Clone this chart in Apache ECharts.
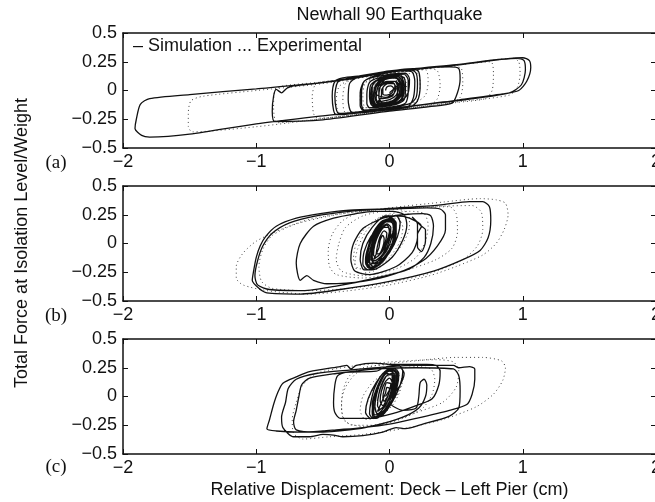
<!DOCTYPE html>
<html>
<head>
<meta charset="utf-8">
<script src="https://cdn.jsdelivr.net/npm/echarts@6/dist/echarts.min.js"></script>
<style>
  html, body { margin: 0; padding: 0; background: #fff; }
  #chart { width: 655px; height: 502px; }
</style>
</head>
<body>
<div id="chart"></div>
<script>
// Hysteresis traces: [displacement (cm), force / weight]
const xTicks = [-2, -1, 0, 1, 2];
const yTicks = [-0.5, -0.25, 0, 0.25, 0.5];
const panelLabels = ['(a)', '(b)', '(c)'];

// Panel (a) – simulation
const simA = [
  [0.00,-0.02],[0.08,0.08],[0.05,0.11],[-0.05,0.09],[-0.10,0.05],[-0.12,-0.03],[-0.12,-0.10],[-0.10,-0.13],
  [0.01,-0.11],[0.06,-0.07],[0.10,0.01],[0.09,0.09],[0.06,0.12],[-0.06,0.10],[-0.12,0.06],[-0.14,-0.03],
  [-0.14,-0.10],[-0.12,-0.14],[0.02,-0.12],[0.10,-0.08],[0.14,-0.02],[0.15,0.10],[0.12,0.15],[-0.10,0.12],
  [-0.19,0.08],[-0.21,-0.02],[-0.21,-0.12],[-0.19,-0.17],[0.05,-0.14],[0.16,-0.11],[0.20,-0.06],[0.21,0.06],
  [0.20,0.15],[0.16,0.18],[-0.10,0.15],[-0.33,0.10],[-0.39,0.07],[-0.41,-0.05],[-0.40,-0.16],[-0.38,-0.20],
  [0.00,-0.16],[0.50,-0.085],[0.85,-0.03],[0.97,0.00],[1.03,0.08],[1.06,0.20],[1.05,0.26],[1.00,0.285],
  [0.50,0.225],[0.00,0.165],[-0.50,0.07],[-1.00,0.015],[-1.50,-0.035],[-1.80,-0.07],[-1.87,-0.12],
  [-1.90,-0.25],[-1.91,-0.33],[-1.86,-0.39],[-1.80,-0.405],
  [-1.50,-0.38],[-1.00,-0.29],[-0.50,-0.22],[0.00,-0.155],[0.50,-0.09],[0.90,-0.02],[0.99,0.05],
  [1.02,0.18],[1.01,0.26],[0.96,0.28],
  [0.50,0.22],[0.00,0.16],[-0.30,0.10],[-0.60,0.055],[-0.72,0.04],[-0.77,0.02],[-0.81,-0.02],[-0.85,0.01],
  [-0.87,-0.05],[-0.88,-0.18],[-0.86,-0.27],
  [-0.50,-0.255],[0.00,-0.18],[0.30,-0.14],[0.47,-0.11],[0.51,-0.02],[0.53,0.10],[0.52,0.19],[0.45,0.205],
  [0.00,0.17],[-0.20,0.13],[-0.35,0.11],[-0.41,0.08],[-0.43,-0.05],[-0.42,-0.17],[-0.40,-0.21],
  [-0.10,-0.18],[0.16,-0.14],[0.21,-0.09],[0.23,0.04],[0.22,0.16],[0.18,0.19],
  [-0.10,0.15],[-0.25,0.11],[-0.30,0.06],[-0.31,-0.08],[-0.28,-0.19],
  [0.00,-0.165],[0.14,-0.14],[0.18,-0.06],[0.19,0.08],[0.17,0.16],[0.10,0.17],
  [-0.10,0.13],[-0.19,0.08],[-0.22,-0.02],[-0.22,-0.13],[-0.20,-0.17],
  [0.03,-0.14],[0.12,-0.11],[0.14,-0.02],[0.14,0.09],[0.11,0.14],
  [-0.08,0.11],[-0.15,0.07],[-0.17,-0.03],[-0.17,-0.11],[-0.15,-0.15],
  [0.05,-0.12],[0.11,-0.08],[0.12,0.03],[0.11,0.11],[0.07,0.13],[-0.08,0.10],[-0.14,0.05],[-0.15,-0.05],[-0.13,-0.13],
  [0.06,-0.11],[0.10,-0.06],[0.11,0.04],[0.09,0.12],[0.04,0.13],[-0.09,0.09],[-0.13,0.03],[-0.13,-0.07],[-0.11,-0.13],
  [0.04,-0.11],[0.09,-0.07],[0.10,0.03],[0.08,0.11],[0.03,0.12],[-0.07,0.09],[-0.11,0.03],[-0.12,-0.06],[-0.10,-0.12],
  [0.03,-0.10],[0.07,-0.05],[0.08,0.04],[0.06,0.10],[0.01,0.11],[-0.06,0.08],[-0.09,0.02],[-0.10,-0.07],[-0.08,-0.11],
  [0.00,-0.10],[0.06,-0.06],[0.08,0.03],[0.06,0.10],[0.02,0.12],[-0.08,0.10],[-0.13,0.04],[-0.14,-0.05],[-0.12,-0.12],
  [0.05,-0.09],[0.09,-0.04],[0.10,0.05],[0.08,0.11],[0.03,0.12],[-0.04,0.09],[-0.07,0.03],[-0.08,-0.06],[-0.05,-0.11],
  [0.04,-0.10],[0.08,-0.05],[0.09,0.04],[0.07,0.10],[0.02,0.11],[-0.06,0.09],[-0.10,0.03],[-0.11,-0.05],[-0.09,-0.11],
  [0.02,-0.09],[0.06,-0.04],[0.06,0.03],
  [0.04,0.08],[-0.04,0.06],[-0.08,0.01],[-0.08,-0.06],[-0.05,-0.07],[0.02,-0.05],[0.04,0.00],[0.04,0.05],
  [0.02,0.07],[-0.03,0.05],[-0.06,0.00],[-0.06,-0.05],[-0.09,-0.10],[0.00,-0.08],[0.05,-0.04],[0.07,0.03],
  [0.05,0.08],[-0.02,0.08],[-0.08,0.04],[-0.10,-0.03],[-0.03,-0.06],[0.03,-0.03],[0.05,0.02],[0.03,0.06],
  [-0.02,0.06],[-0.05,0.02],[-0.05,-0.03],[-0.02,-0.04],[0.02,-0.02],[0.03,0.02],[0.01,0.04],[-0.02,0.03],[-0.03,0.00]
];

// Panel (a) – experiment
const expA = [
  [0.00,-0.03],[0.06,0.07],[0.03,0.11],[-0.06,0.09],[-0.12,0.03],[-0.13,-0.07],[-0.10,-0.13],[0.04,-0.11],
  [0.10,-0.06],[0.12,0.05],[0.10,0.13],[-0.08,0.12],[-0.18,0.07],[-0.20,-0.05],[-0.18,-0.15],[0.00,-0.14],
  [0.20,-0.10],[0.27,-0.04],[0.29,0.08],[0.27,0.18],[0.00,0.15],[-0.30,0.09],[-0.38,0.03],[-0.40,-0.10],
  [-0.37,-0.20],[0.00,-0.17],[0.50,-0.10],[0.90,-0.04],[0.96,0.03],[0.98,0.15],[0.97,0.25],[0.93,0.28],
  [0.50,0.22],[0.00,0.15],[-0.50,0.06],[-1.00,0.00],[-1.40,-0.05],[-1.49,-0.09],[-1.51,-0.20],[-1.51,-0.31],
  [-1.48,-0.36],[-1.00,-0.315],[-0.50,-0.245],[0.00,-0.175],[0.50,-0.105],[0.72,-0.07],[0.77,0.00],
  [0.78,0.15],[0.76,0.25],[0.50,0.22],[0.00,0.155],[-0.40,0.085],[-0.80,0.04],[-0.86,0.00],[-0.87,-0.15],
  [-0.84,-0.28],[-0.40,-0.23],[0.00,-0.175],[0.45,-0.11],[0.53,-0.06],[0.55,0.06],[0.54,0.19],[0.48,0.21],
  [0.00,0.15],[-0.40,0.09],[-0.55,0.06],[-0.58,-0.05],[-0.57,-0.20],[-0.54,-0.24],[0.00,-0.17],[0.30,-0.13],
  [0.36,-0.07],[0.38,0.05],[0.36,0.17],[0.30,0.19],[0.00,0.15],[-0.25,0.11],[-0.33,0.06],[-0.35,-0.06],
  [-0.33,-0.19],[0.00,-0.16],[0.18,-0.12],[0.22,-0.05],[0.23,0.07],[0.21,0.15],[0.00,0.13],[-0.15,0.09],
  [-0.21,0.03],[-0.22,-0.08],[-0.19,-0.15],[0.00,-0.13],[0.10,-0.09],[0.13,-0.01],[0.12,0.09],[0.09,0.12],
  [-0.05,0.10],[-0.12,0.04],[-0.13,-0.06],[-0.10,-0.11],[0.00,-0.09],[0.04,-0.03]
];

// Panel (b) – simulation
const simB = [
  [-0.02,0.00],[0.03,0.12],[0.02,0.18],[-0.03,0.19],[-0.09,0.12],[-0.13,0.00],[-0.14,-0.12],[-0.11,-0.18],
  [-0.06,-0.15],[0.00,-0.05],[0.04,0.08],[0.05,0.17],[0.02,0.21],[-0.05,0.20],[-0.12,0.10],[-0.16,-0.03],
  [-0.17,-0.15],[-0.14,-0.21],[-0.08,-0.18],[0.00,-0.08],[0.06,0.06],[0.08,0.18],[0.05,0.24],[-0.03,0.24],
  [-0.13,0.14],[-0.20,0.00],[-0.22,-0.14],[-0.19,-0.23],[-0.10,-0.22],[0.02,-0.12],[0.10,0.03],[0.13,0.16],
  [0.11,0.25],[0.02,0.28],
  [-0.12,0.28],[-0.25,0.26],[-0.42,0.22],[-0.57,0.15],[-0.67,0.00],[-0.70,-0.17],[-0.67,-0.32],[-0.62,-0.28],
  [-0.57,-0.32],[-0.47,-0.35],[-0.20,-0.33],[0.05,-0.26],[0.25,-0.15],[0.36,-0.02],[0.42,0.12],[0.42,0.25],
  [0.38,0.30],[0.28,0.31],
  [0.00,0.30],[-0.30,0.29],[-0.52,0.26],[-0.70,0.22],[-0.85,0.15],[-0.93,0.06],[-0.97,-0.02],[-1.00,-0.12],
  [-1.02,-0.24],[-1.03,-0.32],[-0.98,-0.39],[-0.92,-0.43],[-0.67,-0.44],[-0.37,-0.40],[0.00,-0.33],
  [0.33,-0.24],[0.55,-0.14],[0.68,-0.06],[0.74,0.05],[0.76,0.20],[0.75,0.32],[0.70,0.365],[0.60,0.365],
  [0.37,0.334],[0.00,0.305],[-0.30,0.28],[-0.55,0.24],[-0.75,0.18],[-0.88,0.09],[-0.95,-0.02],[-0.99,-0.15],
  [-1.01,-0.28],[-0.99,-0.36],[-0.90,-0.40],[-0.65,-0.41],[-0.40,-0.37],[-0.10,-0.30],[0.15,-0.22],
  [0.26,-0.12],[0.31,0.00],[0.33,0.15],[0.31,0.24],[0.25,0.26],
  [0.10,0.25],[-0.05,0.22],[-0.20,0.13],[-0.27,0.00],[-0.29,-0.14],[-0.26,-0.24],[-0.15,-0.27],[0.05,-0.20],
  [0.17,-0.08],[0.21,0.05],[0.21,0.17],[0.17,0.23],
  [0.24,0.15],[0.27,0.12],[0.27,0.02],[0.24,-0.07],[0.21,-0.03],[0.21,0.08],[0.24,0.15],
  [0.15,0.22],[0.05,0.24],[-0.05,0.18],[-0.14,0.06],[-0.19,-0.07],[-0.20,-0.18],[-0.16,-0.23],[-0.07,-0.18],
  [0.00,-0.07],[0.04,0.06],[0.05,0.17],[0.02,0.22],[-0.04,0.20],[-0.11,0.10],[-0.16,-0.03],[-0.18,-0.14],[-0.16,-0.21],
  [-0.06,-0.17],[0.01,-0.05],[0.05,0.08],[0.05,0.18],[0.01,0.22],[-0.06,0.18],[-0.12,0.07],[-0.16,-0.06],[-0.17,-0.17],[-0.14,-0.22],
  [-0.04,-0.14],[0.02,-0.02],[0.04,0.10],[0.03,0.19],[-0.01,0.21],[-0.07,0.15],[-0.12,0.04],[-0.15,-0.09],[-0.15,-0.17],[-0.12,-0.20],
  [-0.09,-0.16],[-0.02,-0.06],[0.02,0.06],[0.03,0.16],[0.00,0.20],[-0.06,0.17],[-0.12,0.07],[-0.16,-0.05],[-0.18,-0.15],[-0.17,-0.19],
  [-0.03,-0.11],[0.02,0.00],[0.03,0.11],[0.02,0.18],[-0.02,0.19],[-0.08,0.12],[-0.12,0.00],[-0.13,-0.11],[-0.12,-0.17],[-0.10,-0.18],
  [-0.05,-0.13],[0.01,-0.03],[0.04,0.09],[0.04,0.17],[0.00,0.21],[-0.07,0.16],[-0.13,0.04],[-0.16,-0.08],[-0.16,-0.16],
  [-0.11,-0.17],[-0.04,-0.08],[0.00,0.03],
  [0.01,0.14],[-0.02,0.17],[-0.07,0.12],[-0.11,0.03],[-0.13,-0.07],[-0.14,-0.14],[-0.11,-0.15],[-0.05,-0.09],
  [-0.02,0.00],[0.00,0.09],[-0.01,0.14],[-0.04,0.14],[-0.08,0.08],[-0.11,-0.01],[-0.12,-0.10],[-0.10,-0.12],
  [-0.05,-0.06],[-0.03,0.02],[-0.02,0.09],[-0.04,0.11],[-0.07,0.06],[-0.09,-0.02],[-0.10,-0.09],[-0.08,-0.09],
  [-0.05,-0.03],[-0.04,0.04],[-0.05,0.07],[-0.07,0.03],[-0.08,-0.04],[-0.12,-0.14],[-0.06,-0.08],[-0.02,0.02],
  [0.00,0.12],[-0.02,0.16],[-0.06,0.13],[-0.10,0.04],[-0.12,-0.06]
];

// Panel (b) – experiment
const expB = [
  [-0.05,-0.05],[0.02,0.10],[0.03,0.18],[-0.02,0.20],[-0.10,0.12],[-0.15,-0.02],[-0.17,-0.15],[-0.13,-0.21],
  [-0.06,-0.16],[0.02,-0.04],[0.07,0.10],[0.08,0.21],[0.03,0.25],[-0.08,0.22],[-0.18,0.10],[-0.24,-0.05],
  [-0.26,-0.18],[-0.22,-0.26],[-0.12,-0.24],[0.00,-0.14],[0.10,0.00],[0.15,0.15],[0.14,0.26],[0.05,0.30],
  [-0.20,0.28],[-0.35,0.20],[-0.43,0.08],[-0.46,-0.06],[-0.45,-0.20],[-0.40,-0.27],[-0.20,-0.30],[0.10,-0.24],
  [0.35,-0.14],[0.47,-0.04],[0.51,0.10],[0.50,0.26],[0.45,0.32],
  [0.00,0.30],[-0.30,0.27],[-0.60,0.21],[-0.80,0.13],[-1.00,0.02],[-1.10,-0.085],[-1.15,-0.20],[-1.15,-0.30],
  [-1.10,-0.36],[-0.92,-0.41],[-0.60,-0.44],[-0.30,-0.41],[0.00,-0.36],[0.30,-0.28],[0.50,-0.20],[0.70,-0.10],
  [0.80,0.00],[0.86,0.12],[0.89,0.25],[0.87,0.35],[0.80,0.38],[0.68,0.39],
  [0.40,0.36],[0.00,0.31],[-0.40,0.25],[-0.70,0.17],[-0.88,0.07],[-0.95,-0.05],[-0.98,-0.20],[-0.96,-0.33],
  [-0.88,-0.39],[-0.60,-0.41],[-0.30,-0.39],[0.00,-0.34],[0.30,-0.26],[0.55,-0.14],[0.66,-0.02],[0.70,0.12],
  [0.69,0.27],[0.62,0.33],
  [0.30,0.32],[0.00,0.29],[-0.20,0.24],[-0.33,0.14],[-0.38,0.00],[-0.40,-0.14],[-0.36,-0.24],[-0.20,-0.28],
  [0.05,-0.22],[0.20,-0.12],[0.27,0.02],[0.29,0.16],[0.26,0.26],[0.15,0.28],
  [-0.05,0.24],[-0.18,0.14],[-0.25,0.00],[-0.27,-0.13],[-0.23,-0.22],[-0.12,-0.22],[0.00,-0.12],[0.08,0.02],
  [0.10,0.14],[0.06,0.22],[-0.03,0.21],[-0.11,0.10],[-0.15,-0.03],[-0.15,-0.14],[-0.10,-0.18],[-0.03,-0.10],
  [0.02,0.02]
];

// Panel (c) – simulation
const simC = [
  [-0.03,0.00],[0.02,0.12],[0.02,0.18],[-0.02,0.20],[-0.07,0.12],[-0.10,0.00],[-0.11,-0.10],[-0.09,-0.15],
  [-0.04,-0.12],[0.01,-0.02],[0.05,0.10],[0.06,0.20],[0.02,0.24],[-0.05,0.20],[-0.11,0.08],[-0.14,-0.05],
  [-0.15,-0.15],[-0.12,-0.19],[-0.05,-0.16],[0.02,-0.05],[0.08,0.10],[0.10,0.22],[0.07,0.27],[-0.02,0.26],
  [-0.10,0.22],[-0.33,0.21],[-0.39,0.18],[-0.41,0.10],[-0.42,-0.05],[-0.41,-0.14],[-0.37,-0.19],[-0.15,-0.19],
  [0.05,-0.14],[0.20,-0.08],[0.32,-0.02],[0.37,0.10],[0.38,0.22],[0.35,0.27],[0.28,0.28],
  [0.00,0.28],[-0.12,0.29],[-0.25,0.27],[-0.29,0.24],[-0.32,0.27],[-0.37,0.26],[-0.60,0.216],[-0.70,0.17],
  [-0.80,0.115],[-0.84,0.03],[-0.87,-0.07],[-0.90,-0.20],[-0.92,-0.28],[-0.85,-0.30],[-0.67,-0.31],
  [-0.50,-0.30],[-0.40,-0.29],[-0.20,-0.27],[0.00,-0.24],[0.20,-0.19],[0.45,-0.12],[0.58,-0.07],[0.62,0.02],
  [0.64,0.15],[0.64,0.24],[0.60,0.26],[0.52,0.25],[0.48,0.27],[0.42,0.27],
  [0.20,0.27],[0.00,0.26],[-0.30,0.23],[-0.55,0.20],[-0.70,0.15],[-0.76,0.07],[-0.78,-0.05],[-0.81,-0.18],
  [-0.80,-0.27],[-0.72,-0.35],[-0.60,-0.35],[-0.50,-0.33],[-0.42,-0.335],[-0.35,-0.35],[-0.20,-0.34],
  [-0.05,-0.31],[0.05,-0.27],[0.12,-0.28],[0.25,-0.24],[0.45,-0.17],[0.52,-0.10],[0.53,0.05],[0.52,0.18],
  [0.48,0.24],
  [0.20,0.25],[-0.10,0.24],[-0.40,0.20],[-0.60,0.16],[-0.66,0.10],[-0.68,0.00],[-0.70,-0.12],[-0.72,-0.22],
  [-0.70,-0.29],[-0.55,-0.31],[-0.30,-0.29],[-0.10,-0.25],[0.10,-0.18],[0.22,-0.10],[0.27,0.00],[0.28,0.10],
  [0.26,0.15],[0.23,0.12],[0.22,0.00],[0.20,-0.10],
  [0.10,-0.12],[0.00,-0.05],[0.08,0.10],[0.11,0.20],[0.08,0.25],[-0.02,0.23],[-0.10,0.12],[-0.16,-0.02],
  [-0.18,-0.14],[-0.14,-0.19],[-0.06,-0.15],
  [0.02,-0.03],[0.06,0.10],[0.07,0.20],[0.04,0.24],[-0.02,0.21],[-0.08,0.10],[-0.12,-0.03],[-0.13,-0.13],[-0.12,-0.18],
  [-0.05,-0.14],[0.03,-0.01],[0.06,0.12],[0.05,0.21],[0.01,0.24],[-0.05,0.18],[-0.10,0.06],[-0.13,-0.07],[-0.12,-0.16],[-0.10,-0.19],
  [-0.01,-0.10],[0.04,0.02],[0.06,0.14],[0.04,0.22],[-0.01,0.22],[-0.06,0.14],[-0.10,0.02],[-0.11,-0.10],[-0.08,-0.17],
  [-0.04,-0.12],[0.01,-0.02],[0.04,0.10],[0.04,0.19],[0.00,0.22],[-0.06,0.16],[-0.10,0.05],[-0.12,-0.07],[-0.11,-0.16],
  [-0.03,-0.12],[0.03,0.00],[0.05,0.12],[0.05,0.20],[0.01,0.23],[-0.05,0.17],[-0.09,0.05],[-0.11,-0.08],[-0.09,-0.15],
  [-0.03,-0.08],[0.01,0.03],
  [0.03,0.12],[0.03,0.18],[-0.01,0.19],[-0.05,0.12],[-0.08,0.02],[-0.09,-0.08],[-0.07,-0.11],[-0.02,-0.05],
  [0.01,0.04],[0.02,0.12],[0.00,0.16],[-0.03,0.13],[-0.06,0.05],[-0.07,-0.04],[-0.05,-0.08],[-0.02,-0.02],
  [0.00,0.05],[0.01,0.11],[-0.02,0.12],[-0.04,0.06],[-0.05,-0.01],[-0.04,-0.04],[-0.01,0.01],[0.00,0.07],
  [-0.02,0.08],[-0.03,0.03],[-0.09,-0.13],[-0.03,-0.07],[0.02,0.03],[0.04,0.14],[0.02,0.20],[-0.03,0.17],
  [-0.07,0.07],[-0.09,-0.04]
];

// Panel (c) – experiment
const expC = [
  [-0.05,-0.05],[0.03,0.10],[0.05,0.20],[0.00,0.24],[-0.08,0.15],[-0.15,0.00],[-0.18,-0.13],[-0.14,-0.19],
  [-0.05,-0.14],[0.05,0.00],[0.10,0.15],[0.10,0.25],[0.03,0.28],
  [-0.20,0.25],[-0.30,0.18],[-0.35,0.05],[-0.36,-0.10],[-0.33,-0.22],[-0.20,-0.26],[0.00,-0.22],[0.20,-0.14],
  [0.40,-0.05],[0.50,0.08],[0.52,0.22],[0.48,0.30],[0.35,0.32],
  [0.00,0.30],[-0.30,0.26],[-0.55,0.20],[-0.65,0.10],[-0.70,-0.05],[-0.73,-0.20],[-0.72,-0.32],[-0.65,-0.37],
  [-0.45,-0.35],[-0.20,-0.33],[0.10,-0.28],[0.40,-0.20],[0.65,-0.09],[0.78,0.02],[0.85,0.14],[0.87,0.25],
  [0.84,0.31],[0.70,0.34],[0.50,0.34],
  [0.20,0.31],[-0.10,0.27],[-0.25,0.20],[-0.33,0.08],[-0.36,-0.05],[-0.35,-0.18],[-0.28,-0.25],[-0.10,-0.25],
  [0.10,-0.19],[0.25,-0.10],[0.32,0.02],[0.34,0.15],[0.31,0.24],[0.20,0.26],
  [0.00,0.22],[-0.12,0.13],[-0.20,0.00],[-0.22,-0.12],[-0.18,-0.20],[-0.08,-0.18],[0.02,-0.08],[0.08,0.05],
  [0.09,0.16],[0.04,0.20],[-0.05,0.14],[-0.10,0.02],[-0.11,-0.09],[-0.07,-0.12],[0.00,-0.04]
];

const panels = [
  { sim: simA, exp: expA, top: 33 },
  { sim: simB, exp: expB, top: 186 },
  { sim: simC, exp: expC, top: 339 }
];

const FONT = '"Liberation Sans", Arial, Helvetica, sans-serif';
const INK = '#111';
const fmt = v => String(v).replace('-', '\u2212');

const grids = [], xAxes = [], yAxes = [], series = [];
const axisLine = { show: true, onZero: false, lineStyle: { color: INK, width: 1.5 } };
const tick = { show: true, inside: true, length: 5, lineStyle: { color: INK, width: 1 } };

panels.forEach((p, i) => {
  grids.push({ left: 123, top: p.top, width: 533, height: 115, containLabel: false, outerBoundsMode: 'none' });
  const xBase = { gridIndex: i, type: 'value', min: xTicks[0], max: xTicks[xTicks.length - 1], interval: 1,
    splitLine: { show: false }, axisLine, axisTick: tick };
  xAxes.push(Object.assign({}, xBase, { position: 'bottom',
    axisLabel: { formatter: fmt, fontSize: 18, color: INK, fontFamily: FONT, margin: 5, hideOverlap: false } }));
  xAxes.push(Object.assign({}, xBase, { position: 'top', axisLabel: { show: false } }));
  const yBase = { gridIndex: i, type: 'value', min: yTicks[0], max: yTicks[yTicks.length - 1], interval: 0.25,
    splitLine: { show: false }, axisLine, axisTick: tick };
  yAxes.push(Object.assign({}, yBase, { position: 'left',
    axisLabel: { formatter: fmt, fontSize: 18, color: INK, fontFamily: FONT, margin: 6 } }));
  yAxes.push(Object.assign({}, yBase, { position: 'right', axisLabel: { show: false } }));

  series.push({
    type: 'line', xAxisIndex: 2 * i, yAxisIndex: 2 * i, data: p.exp,
    showSymbol: false, symbol: 'none', smooth: 0.25, z: 2,
    lineStyle: { color: '#444', width: 1, type: [1, 3] }
  });
  series.push({
    type: 'line', xAxisIndex: 2 * i, yAxisIndex: 2 * i, data: p.sim,
    showSymbol: false, symbol: 'none', smooth: 0.25, z: 3,
    lineStyle: { color: '#111', width: 1.3 }
  });
});

const labelY = [163, 316, 467];
const graphic = [
  { type: 'text', x: 389.5, y: 15, style: { text: 'Newhall 90 Earthquake', fontSize: 18, fontFamily: FONT,
    fill: INK, textAlign: 'center', textVerticalAlign: 'middle' } },
  { type: 'text', x: 133, y: 46, style: { text: '\u2013 Simulation ... Experimental', fontSize: 18, fontFamily: FONT,
    fill: INK, textAlign: 'left', textVerticalAlign: 'middle' } },
  { type: 'text', x: 389.5, y: 490, style: { text: 'Relative Displacement: Deck \u2013 Left Pier (cm)', fontSize: 18,
    fontFamily: FONT, fill: INK, textAlign: 'center', textVerticalAlign: 'middle' } },
  { type: 'text', x: 22, y: 243, rotation: Math.PI / 2, style: { text: 'Total Force at Isolation Level/Weight',
    fontSize: 18, fontFamily: FONT, fill: INK, textAlign: 'center', textVerticalAlign: 'middle' } }
];
panelLabels.forEach((t, i) => {
  graphic.push({ type: 'text', x: 56, y: labelY[i], style: { text: t, fontSize: 19,
    fontFamily: '"Liberation Serif", "Times New Roman", serif', fill: INK, textAlign: 'center', textVerticalAlign: 'middle' } });
});

const chart = echarts.init(document.getElementById('chart'), null, { renderer: 'canvas' });
chart.setOption({
  animation: false,
  backgroundColor: '#fff',
  grid: grids,
  xAxis: xAxes,
  yAxis: yAxes,
  series,
  graphic
});
</script>
</body>
</html>
